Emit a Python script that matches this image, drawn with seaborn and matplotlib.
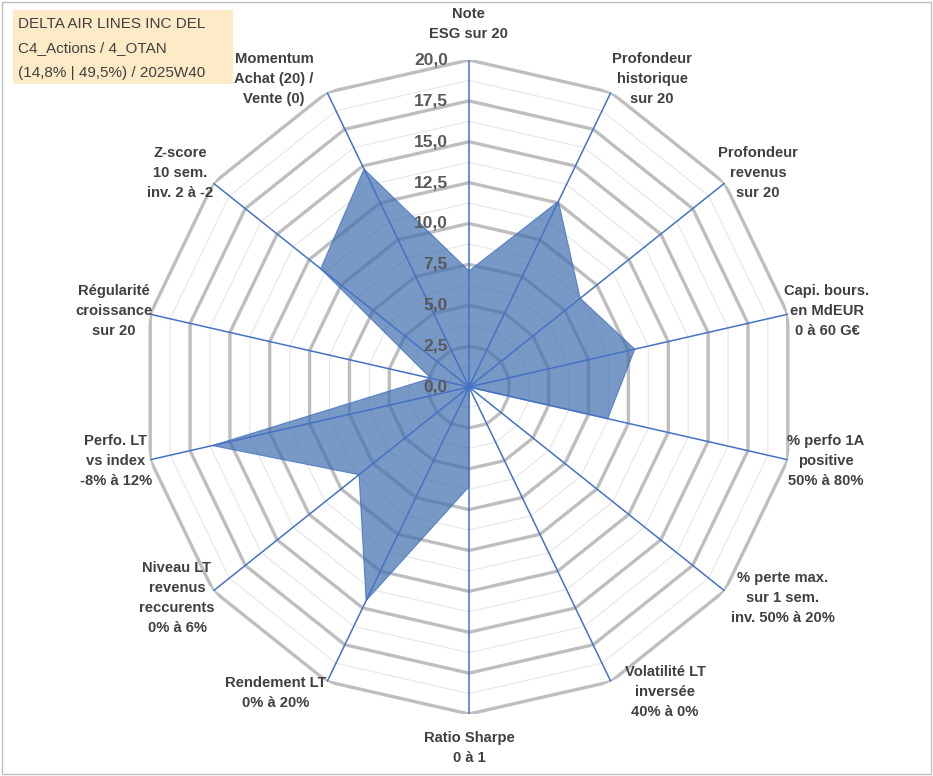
import matplotlib.pyplot as plt
import seaborn as sns
import pandas as pd
import numpy as np
from matplotlib.patches import Rectangle

# chart data
categories = ["Note\nESG sur 20",
              "Profondeur\nhistorique\nsur 20",
              "Profondeur\nrevenus\nsur 20",
              "Capi. bours.\nen MdEUR\n0 à 60 G€",
              "% perfo 1A\npositive\n50% à 80%",
              "% perte max.\nsur 1 sem.\ninv. 50% à 20%",
              "Volatilité LT\ninversée\n40% à 0%",
              "Ratio Sharpe\n0 à 1",
              "Rendement LT\n0% à 20%",
              "Niveau LT\nrevenus\nreccurents\n0% à 6%",
              "Perfo. LT\nvs index\n-8% à 12%",
              "Régularité\ncroissance\nsur 20",
              "Z-score\n10 sem.\ninv. 2 à -2",
              "Momentum\nAchat (20) /\nVente (0)"]
scores = [7.1, 12.6, 8.7, 10.4, 8.7, 0.0, 0.0, 6.1, 14.5, 8.6, 16.1, 2.4, 11.6, 14.8]
ticks = [0, 2.5, 5, 7.5, 10, 12.5, 15, 17.5, 20]
tick_labels = ["0,0", "2,5", "5,0", "7,5", "10,0", "12,5", "15,0", "17,5", "20,0"]
title_lines = ["DELTA AIR LINES INC DEL", "C4_Actions / 4_OTAN", "(14,8% | 49,5%) / 2025W40"]

# label centres in pixels (layout only)
label_px = [(468, 24), (652, 79), (758, 173), (827, 311), (826, 461), (783, 598),
            (665, 692), (469, 748), (276, 693), (177, 598), (116, 461), (114, 311),
            (180, 173), (274, 79)]

W, H = 933, 776
sns.set_theme(style="white")
plt.rcParams['font.family'] = ['Liberation Sans', 'DejaVu Sans']

n = len(categories)
theta = np.arange(n) * 2 * np.pi / n
df = pd.DataFrame({'theta': np.append(theta, theta[0]),
                   'score': scores + [scores[0]]})

fig = plt.figure(figsize=(W / 100, H / 100), dpi=100)
fig.patch.set_facecolor('white')
cx, cy, rad = 469, 387, 327
ax = fig.add_axes([(cx - rad) / W, (H - cy - rad) / H, 2 * rad / W, 2 * rad / H],
                  projection='polar')
ax.set_theta_offset(np.pi / 2)
ax.set_theta_direction(-1)
ax.set_ylim(0, 20)
ax.set_xticks([])
ax.set_yticks([])
ax.grid(False)
ax.spines['polar'].set_visible(False)
ax.set_facecolor('none')

ring_theta = np.append(theta, theta[0])
# minor rings
for r in np.arange(1.25, 20, 2.5):
    ax.plot(ring_theta, [r] * (n + 1), color='#E6E6E6', lw=0.8, zorder=1)
# major rings
for r in ticks[1:]:
    ax.plot(ring_theta, [r] * (n + 1), color='#BEBEBE', lw=2.4, zorder=1)

# series
ax.fill(df['theta'], df['score'], color='#3F6DAE', alpha=0.70, lw=0, zorder=2)
sns.lineplot(data=df, x='theta', y='score', sort=False, estimator=None,
             color='#4472C4', lw=0.8, alpha=0.8, ax=ax, zorder=3)
ax.set_xlabel('')
ax.set_ylabel('')

# spokes
for t in theta:
    ax.plot([t, t], [0, 20], color='#4472C4', lw=1.1, zorder=4)

# radial tick labels
for r, lab in zip(ticks, tick_labels):
    ax.annotate(lab, xy=(0, r), xytext=(-21, 0), textcoords='offset pixels',
                ha='right', va='center', fontsize=12.5, fontweight='bold',
                color='#595959', zorder=5)

# category labels
for lab, (x, y) in zip(categories, label_px):
    fig.text(x / W, 1 - y / H, lab, ha='center', va='center', multialignment='center',
             fontsize=10.6, fontweight='bold', color='#404040', linespacing=1.56)

# title box
fig.patches.append(Rectangle((13 / W, 1 - 84 / H), 220 / W, 74 / H,
                             transform=fig.transFigure, facecolor='#FDEBC8',
                             edgecolor='none', zorder=0))
for i, line in enumerate(title_lines):
    fig.text(18 / W, 1 - (24 + 24.5 * i) / H, line, ha='left', va='center',
             fontsize=11, color='#404040')

# outer frame
fig.patches.append(Rectangle((2 / W, 2 / H), (W - 4) / W, (H - 4) / H,
                             transform=fig.transFigure, facecolor='none',
                             edgecolor='#BFBFBF', lw=1))

fig.savefig('out.png', dpi=100)
